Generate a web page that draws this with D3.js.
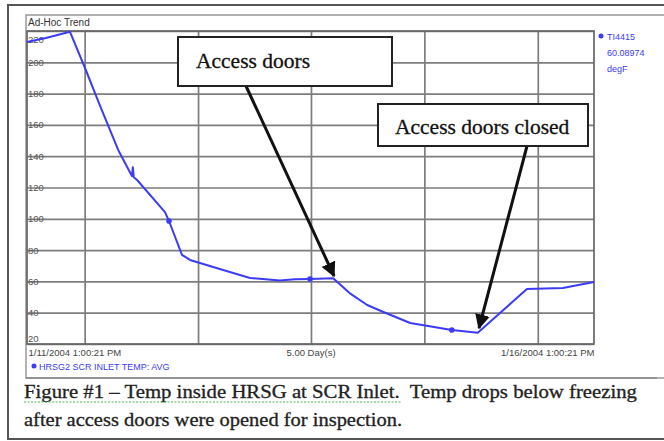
<!doctype html>
<html>
<head>
<meta charset="utf-8">
<script src="https://cdn.jsdelivr.net/npm/d3@7/dist/d3.min.js"></script>
<style>
  body { margin: 0; background: #fff; }
  svg { display: block; }
</style>
</head>
<body>
<svg id="chart" width="664" height="441"></svg>
<script>
// hours since 1/11/2004 1:00:21 PM, temperature degF
const hours = [0, 4, 9.1, 12.3, 15.4, 19.3, 22.2, 22.4, 22.6, 23.3, 29.2, 30.05, 32.8, 34.5, 40.8, 47.2, 53.5, 56.7, 59.9, 64.8, 68.5, 72, 75.3, 81.1, 89.9, 95.4, 105.8, 113.4, 120];
const temps = [213, 215.5, 219.5, 196.2, 172.7, 144, 127.3, 133, 126.5, 124.8, 104.3, 98.6, 76.9, 73.7, 67.9, 62.2, 60.6, 61.3, 61.5, 62, 52, 44.9, 40.6, 33.4, 28.9, 27.2, 55.1, 55.8, 59.6];
const markerHours = [30.05, 59.9, 89.9];
const markerTemps = [98.6, 61.5, 28.9];

const yTicks = [20, 40, 60, 80, 100, 120, 140, 160, 180, 200, 220];
const gridHours = [12.2, 36.2, 60.1, 84.1, 108.1];
const xTickHours = [0, 60, 120];
const xTickLabels = ["1/11/2004 1:00:21 PM", "5.00 Day(s)", "1/16/2004 1:00:21 PM"];

const chartTitle = "Ad-Hoc Trend";
const seriesName = "HRSG2 SCR INLET TEMP: AVG";
const tagLines = ["TI4415", "60.08974", "degF"];
const notes = ["Access doors", "Access doors closed"];
const captionLines = [
  "Figure #1 \u2013 Temp inside HRSG at SCR Inlet.  Temp drops below freezing",
  "after access doors were opened for inspection."
];

const blue = "#3c3cf6";
const svg = d3.select("#chart");

// outer frame and trend panel
svg.append("rect").attr("x", 8).attr("y", 5).attr("width", 660).attr("height", 434)
  .attr("fill", "none").attr("stroke", "#555").attr("stroke-width", 2);
svg.append("rect").attr("x", 26).attr("y", 15).attr("width", 640).attr("height", 363)
  .attr("fill", "none").attr("stroke", "#999").attr("stroke-width", 1.5);

const pLeft = 27, pRight = 594, pTop = 31, pBottom = 344;
const xScale = d3.scaleLinear().domain([0, 120]).range([pLeft, pRight]);
const yScale = d3.scaleLinear().domain([20, 220]).range([pBottom, pTop]);

svg.append("text").attr("x", 28).attr("y", 26)
  .style("font", "10px 'Liberation Sans', Arial, sans-serif").style("fill", "#333")
  .text(chartTitle);

// grid
const yGrid = d3.axisLeft(yScale).tickValues(yTicks).tickSize(-(pRight - pLeft)).tickFormat("");
svg.append("g").attr("transform", `translate(${pLeft},0)`).call(yGrid)
  .call(g => g.select(".domain").remove())
  .selectAll("line").attr("stroke", "#7d7d7d").attr("stroke-width", 1.7);

const xGrid = d3.axisBottom(xScale).tickValues(gridHours).tickSize(-(pBottom - pTop)).tickFormat("");
svg.append("g").attr("transform", `translate(0,${pBottom})`).call(xGrid)
  .call(g => g.select(".domain").remove())
  .selectAll("line").attr("stroke", "#7d7d7d").attr("stroke-width", 1.7);

svg.append("rect").attr("x", pLeft).attr("y", pTop).attr("width", pRight - pLeft).attr("height", pBottom - pTop)
  .attr("fill", "none").attr("stroke", "#666").attr("stroke-width", 1.7);

// y labels drawn over the grid lines
const yLab = d3.axisRight(yScale).tickValues(yTicks).tickSize(0).tickPadding(1);
svg.append("g").attr("transform", `translate(${pLeft},0)`).call(yLab)
  .call(g => g.select(".domain").remove())
  .selectAll("text")
  .style("font", "9.5px 'Liberation Sans', Arial, sans-serif").style("fill", "#555")
  .attr("dy", d => d === 220 ? "1.2em" : d === 20 ? "-0.25em" : "0.32em");

// x labels
const xLab = d3.axisBottom(xScale).tickValues(xTickHours).tickSize(0).tickPadding(5)
  .tickFormat((d, i) => xTickLabels[i]);
svg.append("g").attr("transform", `translate(0,${pBottom})`).call(xLab)
  .call(g => g.select(".domain").remove())
  .selectAll("text")
  .style("font", "9.5px 'Liberation Sans', Arial, sans-serif").style("fill", "#444")
  .attr("text-anchor", (d, i) => i === 0 ? "start" : i === 2 ? "end" : "middle")
  .attr("dx", (d, i) => i === 0 ? 1 : 0);

// trend line
const pts = hours.map((h, i) => [h, temps[i]]);
const line = d3.line().x(d => xScale(d[0])).y(d => yScale(d[1]));
svg.append("path").datum(pts).attr("d", line)
  .attr("fill", "none").attr("stroke", blue).attr("stroke-width", 2).attr("stroke-linejoin", "round");
svg.selectAll("circle.mk").data(markerHours).enter().append("circle")
  .attr("class", "mk").attr("r", 2.8)
  .attr("cx", d => xScale(d)).attr("cy", (d, i) => yScale(markerTemps[i]))
  .attr("fill", blue);

// legends
svg.append("circle").attr("cx", 34).attr("cy", 366).attr("r", 2.5).attr("fill", blue);
svg.append("text").attr("x", 39).attr("y", 369.5)
  .style("font", "9px 'Liberation Sans', Arial, sans-serif").style("fill", blue).text(seriesName);
svg.append("circle").attr("cx", 601).attr("cy", 36).attr("r", 2.5).attr("fill", blue);
svg.selectAll("text.tag").data(tagLines).enter().append("text").attr("class", "tag")
  .attr("x", 607).attr("y", (d, i) => 40 + i * 16)
  .style("font", "9px 'Liberation Sans', Arial, sans-serif").style("fill", blue).text(d => d);

// arrows
svg.append("defs").append("marker").attr("id", "head")
  .attr("viewBox", "0 0 10 10").attr("refX", 9).attr("refY", 5)
  .attr("markerWidth", 5).attr("markerHeight", 5).attr("orient", "auto")
  .append("path").attr("d", "M0,0L10,5L0,10Z").attr("fill", "#111");
svg.append("line").attr("x1", 246).attr("y1", 86).attr("x2", 334).attr("y2", 276)
  .attr("stroke", "#111").attr("stroke-width", 3).attr("marker-end", "url(#head)");
svg.append("line").attr("x1", 527).attr("y1", 146).attr("x2", 479).attr("y2", 328)
  .attr("stroke", "#111").attr("stroke-width", 3).attr("marker-end", "url(#head)");

// note boxes
const boxes = [[178, 37, 214, 49, 196, 68], [378, 104, 210, 42, 395, 134]];
boxes.forEach((b, i) => {
  svg.append("rect").attr("x", b[0]).attr("y", b[1]).attr("width", b[2]).attr("height", b[3])
    .attr("fill", "#fff").attr("stroke", "#222").attr("stroke-width", 2);
  svg.append("text").attr("x", b[4]).attr("y", b[5])
    .style("font", "21.5px 'Liberation Serif', 'Times New Roman', serif").style("fill", "#111")
    .style("stroke", "#111").style("stroke-width", 0.3)
    .text(notes[i]);
});

// caption
svg.append("line").attr("x1", 26).attr("y1", 378).attr("x2", 657).attr("y2", 378)
  .attr("stroke", "#888").attr("stroke-width", 1.5);
const capWidths = [613, 378];
svg.selectAll("text.cap").data(captionLines).enter().append("text").attr("class", "cap")
  .attr("x", 24).attr("y", (d, i) => 398 + i * 28)
  .attr("textLength", (d, i) => capWidths[i]).attr("lengthAdjust", "spacingAndGlyphs")
  .style("white-space", "pre")
  .style("font", "18px 'Liberation Serif', 'Times New Roman', serif").style("fill", "#222")
  .style("stroke", "#222").style("stroke-width", 0.3)
  .text(d => d);
svg.append("line").attr("x1", 24).attr("y1", 402).attr("x2", 402).attr("y2", 402)
  .attr("stroke", "#4caf50").attr("stroke-width", 1.2).attr("stroke-dasharray", "2,1.5");
</script>
</body>
</html>
